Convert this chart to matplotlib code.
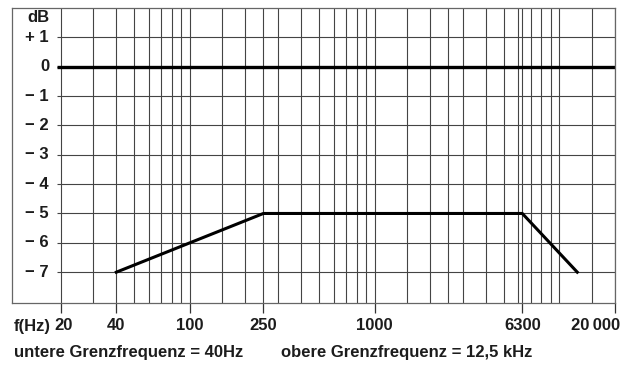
import matplotlib
matplotlib.use("Agg")
import matplotlib.pyplot as plt
import matplotlib.transforms as mtransforms

plt.rcParams['font.family'] = ['Liberation Sans', 'DejaVu Sans']

# reference response (0 dB) and the measured curve
ref_freq = [19, 20000]
ref_db = [0, 0]
curve_freq = [40, 250, 6300, 12500]
curve_db = [-7, -5, -5, -7]

# grid and labels
grid_freqs = [20, 30, 40, 50, 60, 70, 80, 90, 100, 150, 200, 250, 300, 400,
              500, 600, 700, 800, 900, 1000, 1500, 2000, 2500, 3000, 4000,
              5000, 6000, 6300, 7000, 8000, 9000, 10000, 15000]
label_freqs = [20, 40, 100, 250, 1000, 6300, 20000]
label_texts = ['20', '40', '100', '250', '1000', '6300', '20\u2009000']
db_levels = [1, 0, -1, -2, -3, -4, -5, -6, -7]
db_texts = ['+ 1', '0', '− 1', '− 2', '− 3', '− 4', '− 5', '− 6', '− 7']

txt = dict(fontsize=12, fontweight='bold', color='#1c1c1c')

fig = plt.figure(figsize=(6.36, 3.67), dpi=100)
ax = fig.add_axes([12 / 636, 1 - 303 / 367, 603 / 636, 295 / 367])
ax.set_xscale('log')
ax.set_xlim(10.9, 20000)
ax.set_ylim(-8.05, 2)

ax.set_xticks(grid_freqs, minor=True)
ax.set_xticks(label_freqs)
ax.set_xticklabels(label_texts, **txt)
ax.xaxis.set_minor_formatter(plt.NullFormatter())
ax.tick_params(axis='x', which='major', direction='out', length=7, width=0.9,
               color='#333333', pad=4, top=False)
ax.tick_params(axis='x', which='minor', length=0)

# nudge first and last labels like in the original print
labels = ax.get_xticklabels()
labels[0].set_transform(labels[0].get_transform() +
                        mtransforms.ScaledTranslation(3 / 100, 0, fig.dpi_scale_trans))
labels[-1].set_ha('right')
labels[-1].set_transform(labels[-1].get_transform() +
                         mtransforms.ScaledTranslation(5 / 100, 0, fig.dpi_scale_trans))
ax.grid(True, which='both', axis='x', color='#444444', linewidth=0.8)
ax.set_yticks([])

# horizontal grid lines start just left of the 20 Hz line
ax.hlines(db_levels, 19, 20000, color='#444444', linewidth=0.8)
for y, t in zip(db_levels, db_texts):
    ax.text(17.3, y, t, ha='right', va='center', **txt)
ax.text(17.3, 1.68, 'dB', ha='right', va='center', **txt)

ax.plot(ref_freq, ref_db, color='black', linewidth=2.4, solid_capstyle='butt')
ax.plot(curve_freq, curve_db, color='black', linewidth=2.2)

for s in ax.spines.values():
    s.set_color('#666666')
    s.set_linewidth(0.9)

fig.text(14 / 636, 1 - 326 / 367, 'f(Hz)', va='center', ha='left', **txt)
fig.text(14 / 636, 1 - 353 / 367, 'untere Grenzfrequenz = 40Hz',
         va='center', ha='left', **txt)
fig.text(281 / 636, 1 - 353 / 367, 'obere Grenzfrequenz = 12,5 kHz',
         va='center', ha='left', **txt)

fig.savefig('out.png', dpi=100)
